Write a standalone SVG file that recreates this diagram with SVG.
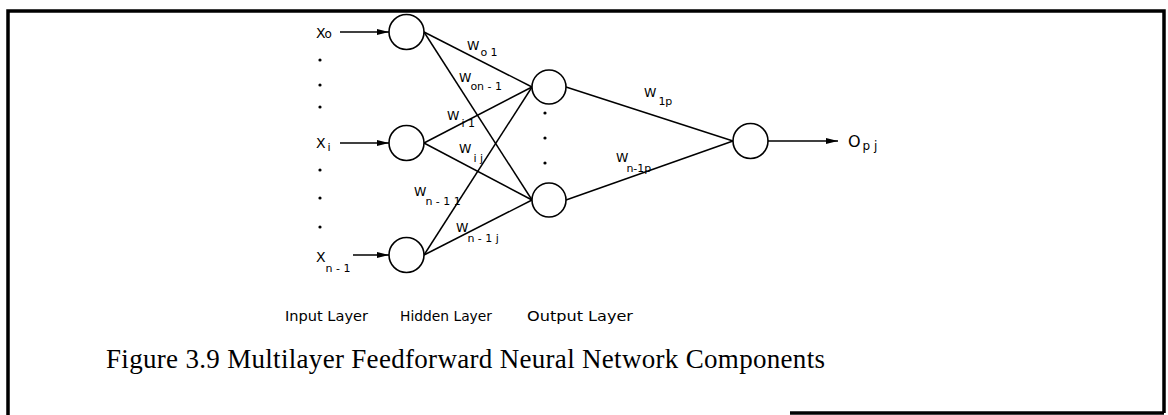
<svg xmlns="http://www.w3.org/2000/svg" width="1168" height="415" viewBox="0 0 1168 415">
  <style>
    .frame { stroke: #000; stroke-width: 3.5; fill: none; }
    .node { fill: #fff; stroke: #000; stroke-width: 1.6; }
    .edge { stroke: #000; stroke-width: 1.5; fill: none; }
    .lbl { font-family: "DejaVu Sans", "Liberation Sans", sans-serif; fill: #000; }
    .w { font-size: 12.5px; }
    .sub { font-size: 11px; }
    .layer { font-size: 14px; }
    .cap { font-family: "Liberation Serif", serif; font-size: 27px; fill: #000; }
    .dot { fill: #000; }
  </style>
  <defs>
    <marker id="arrow" viewBox="0 0 12 6" refX="12" refY="3" markerWidth="12" markerHeight="6" markerUnits="userSpaceOnUse" orient="auto">
      <path d="M0,0 L12,3 L0,6 Z" fill="#000"/>
    </marker>
  </defs>
  <rect width="1168" height="415" fill="#fff"/>

  <!-- page frame -->
  <g id="frame">
    <path class="frame" d="M8,415 L8,11 L1164,11 L1164,413"/>
    <line class="frame" x1="790" y1="413" x2="1164" y2="413" stroke-width="2"/>
  </g>

  <!-- connectors -->
  <g id="connectors">
    <line class="edge" x1="340" y1="32" x2="389" y2="32" marker-end="url(#arrow)"/>
    <line class="edge" x1="340" y1="143" x2="389" y2="143" marker-end="url(#arrow)"/>
    <line class="edge" x1="353" y1="255" x2="389" y2="255" marker-end="url(#arrow)"/>

    <line class="edge" x1="424" y1="32" x2="532" y2="87"/>
    <line class="edge" x1="424" y1="32" x2="532" y2="200"/>
    <line class="edge" x1="424" y1="143" x2="532" y2="87"/>
    <line class="edge" x1="424" y1="143" x2="532" y2="200"/>
    <line class="edge" x1="424" y1="255" x2="532" y2="87"/>
    <line class="edge" x1="424" y1="255" x2="532" y2="200"/>

    <line class="edge" x1="566" y1="87" x2="733" y2="141"/>
    <line class="edge" x1="566" y1="200" x2="733" y2="141"/>

    <line class="edge" x1="768" y1="141" x2="838" y2="141" marker-end="url(#arrow)"/>
  </g>

  <!-- input layer -->
  <g id="input-0">
    <circle class="node" cx="406.5" cy="32" r="17.5"/>
    <text class="lbl" x="316" y="38" font-size="14">X<tspan font-size="12" dx="-1">o</tspan></text>
  </g>
  <g id="input-i">
    <circle class="node" cx="406.5" cy="143" r="17.5"/>
    <text class="lbl" x="316" y="148" font-size="14">X<tspan class="sub" dx="2" y="151">i</tspan></text>
  </g>
  <g id="input-n-1">
    <circle class="node" cx="406.5" cy="255" r="17.5"/>
    <text class="lbl" x="316" y="262" font-size="14">X<tspan class="sub" dx="0" y="272">n - 1</tspan></text>
  </g>
  <g id="input-dots">
    <circle class="dot" cx="320" cy="60" r="1.6"/>
    <circle class="dot" cx="320" cy="85" r="1.6"/>
    <circle class="dot" cx="320" cy="107" r="1.6"/>
    <circle class="dot" cx="320" cy="170" r="1.6"/>
    <circle class="dot" cx="320" cy="198" r="1.6"/>
    <circle class="dot" cx="320" cy="227" r="1.6"/>
  </g>

  <!-- hidden layer -->
  <g id="hidden-1">
    <circle class="node" cx="549" cy="87" r="17"/>
  </g>
  <g id="hidden-2">
    <circle class="node" cx="549" cy="200" r="17"/>
  </g>
  <g id="hidden-dots">
    <circle class="dot" cx="545" cy="113" r="1.6"/>
    <circle class="dot" cx="545" cy="138" r="1.6"/>
    <circle class="dot" cx="545" cy="163" r="1.6"/>
  </g>

  <!-- output layer -->
  <g id="output">
    <circle class="node" cx="750.5" cy="141" r="17.5"/>
    <text class="lbl" x="848" y="147" font-size="16">O<tspan font-size="12" dx="2" y="150">p j</tspan></text>
  </g>

  <!-- weight labels -->
  <g id="weights" class="lbl">
    <text class="w" x="467" y="50">W<tspan class="sub" dx="1" y="56">o 1</tspan></text>
    <text class="w" x="459" y="82">W<tspan class="sub" dx="-1" y="90">on - 1</tspan></text>
    <text class="w" x="447" y="120">W<tspan class="sub" dx="2" y="127">i 1</tspan></text>
    <text class="w" x="459" y="153">W<tspan class="sub" dx="2" y="162">i j</tspan></text>
    <text class="w" x="414" y="196">W<tspan class="sub" dx="-1" y="205">n - 1 1</tspan></text>
    <text class="w" x="456" y="232">W<tspan class="sub" dx="-1" y="242">n - 1 j</tspan></text>
    <text class="w" x="644" y="97">W<tspan class="sub" dx="2" y="105">1p</tspan></text>
    <text class="w" x="616" y="162">W<tspan class="sub" dx="-2" y="172">n-1p</tspan></text>
  </g>

  <!-- layer captions -->
  <g id="layer-labels" class="lbl layer">
    <text x="285" y="321" textLength="83" lengthAdjust="spacingAndGlyphs">Input Layer</text>
    <text x="400" y="321" textLength="92" lengthAdjust="spacingAndGlyphs">Hidden Layer</text>
    <text x="527" y="321" textLength="106" lengthAdjust="spacingAndGlyphs">Output Layer</text>
  </g>

  <text id="caption" class="cap" x="106" y="368" textLength="719" lengthAdjust="spacing">Figure 3.9  Multilayer Feedforward Neural Network Components</text>
</svg>
